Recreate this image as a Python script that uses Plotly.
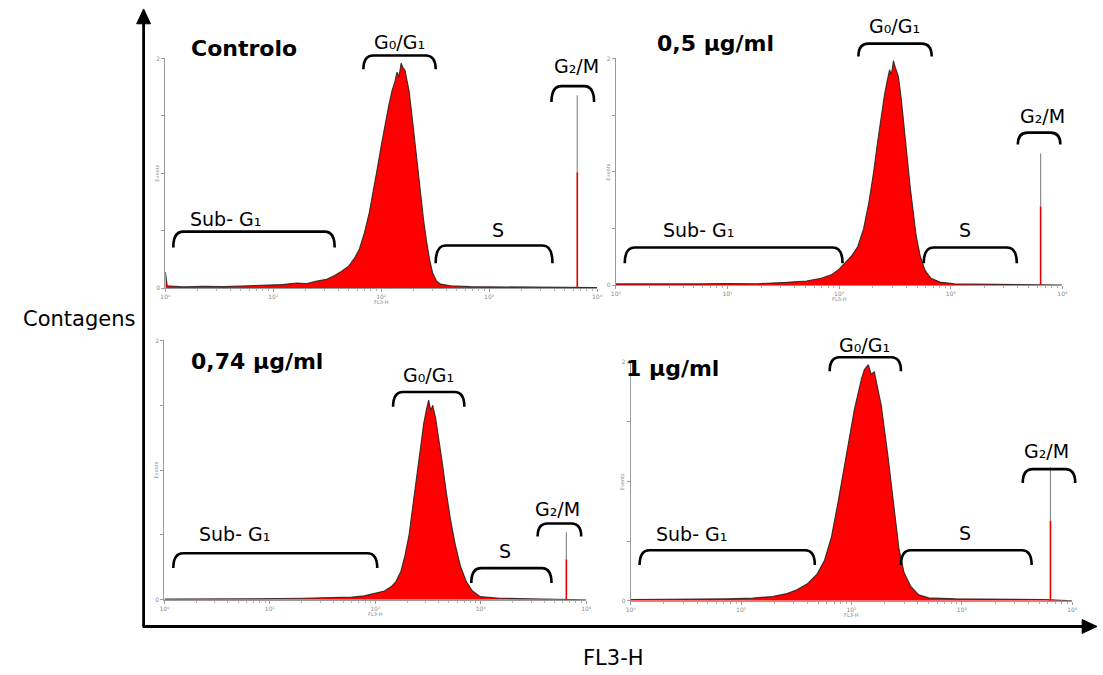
import plotly.graph_objects as go

# ---------------- data ----------------
panel_titles = ["Controlo", "0,5 µg/ml", "0,74 µg/ml", "1 µg/ml"]

# FL3-H (log scale) and relative counts (% of panel axis height)
fl3_ctrl = [1.0, 1.04, 1.46, 2.23, 3.40, 5.20, 7.93, 12.1, 16.6, 20.5, 25.3, 31.3, 37.0, 43.0, 49.8, 56.5, 62.8, 69.8,
            77.6, 84.5, 91.9, 100, 109, 118, 126, 134, 140, 146, 153, 159, 166, 173, 181, 192, 205, 218, 233, 248,
            264, 282, 300, 327, 355, 439, 670, 1262, 2938, 6150, 10000]
cnt_ctrl = [7.0, 1.0, 0.5, 0.8, 0.6, 1.0, 1.2, 1.5, 2.2, 2.0, 3.0, 3.8, 5.5, 7.3, 9.5, 13, 17, 24,
            33, 42, 52, 62, 72, 80, 86, 90, 94, 92, 98, 96, 95, 91, 86, 76, 64, 52, 40, 29,
            20, 12, 6.5, 3.0, 1.7, 1.0, 0.6, 0.5, 0.4, 0.4, 0.2]

fl3_05 = [1.0, 1.96, 5.43, 10, 18.4, 34, 51, 69, 85, 100, 115, 130, 147, 166, 184, 204, 221, 240, 255, 272, 283,
          294, 307, 319, 340, 361, 384, 408, 434, 461, 490, 532, 589, 666, 800, 1084, 2450, 5540, 10000]
cnt_05 = [0.5, 0.4, 0.5, 0.7, 0.6, 1.2, 1.8, 3.0, 4.5, 7, 10, 13, 17, 25, 36, 50, 63, 76, 84, 91, 95,
          93, 99, 96, 92, 82, 70, 56, 43, 32, 22, 13, 6.5, 3.0, 1.3, 0.5, 0.4, 0.3, 0.0]

fl3_074 = [1.0, 2.32, 6.85, 20.2, 38.6, 59.5, 78.8, 102, 122, 141, 157, 175, 191, 209, 227, 248, 270, 288, 308, 321,
           336, 351, 374, 399, 435, 474, 517, 576, 642, 731, 832, 989, 1524, 2915, 5575, 10000]
cnt_074 = [0.3, 0.3, 0.4, 0.6, 0.8, 1.0, 1.5, 2.5, 3.4, 5, 7, 11, 17, 25, 36, 48, 60, 68, 74, 77,
           73, 75, 70, 63, 52, 41, 31, 21, 13, 7, 3.5, 1.2, 0.6, 0.4, 0.3, 0.0]

fl3_1 = [1.0, 2.19, 4.07, 7.57, 12.7, 19.2, 26.1, 32, 39.5, 48.5, 57, 66, 76, 90, 106, 123, 131, 142, 151, 161,
         186, 215, 243, 269, 299, 345, 407, 501, 875, 1995, 5610, 10000]
cnt_1 = [0.5, 0.5, 0.6, 0.8, 1.1, 1.8, 3.0, 4.6, 7, 11, 17, 27, 42, 62, 80, 93, 97, 99, 95, 96,
         82, 60, 38, 22, 12, 6, 2.5, 1.2, 0.8, 0.6, 0.5, 0.0]

hist_x = [fl3_ctrl, fl3_05, fl3_074, fl3_1]
hist_y = [cnt_ctrl, cnt_05, cnt_074, cnt_1]

# G2/M spike position (FL3-H) and height (%)
g2m_pos = [6560, 6390, 6490, 6350]
g2m_height = [84, 58, 26, 56]

x_tick_vals = [1, 10, 100, 1000, 10000]
x_tick_text = ["10⁰", "10¹", "10²", "10³", "10⁴"]
y_tick_vals = [0, 100]
y_tick_text = ["0", "2"]

phase_labels = ["Sub- G₁", "G₀/G₁", "S", "G₂/M"]

# ---------------- layout helpers ----------------
W, H = 1103, 675


def px(x):
    return x / W


def py(y):
    return 1 - y / H


# panel frames in pixels: (left, right, top, bottom)
frames = [(162, 598, 55, 287), (617, 1068, 55, 284), (161, 587, 340, 602), (632, 1078, 362, 603)]
title_pos = [(241, 45), (718, 40), (255, 361), (674, 368)]
# brackets per panel: (x0, x1, ytop, ybottom) for Sub-G1, G0/G1, S, G2/M
brackets = [
    [(170, 333, 230, 246), (362, 435, 52, 66), (435, 553, 244, 262), (552, 595, 83, 99)],
    [(626, 846, 246, 262), (862, 936, 40, 53), (928, 1022, 246, 262), (1023, 1066, 130, 142)],
    [(170, 376, 555, 570), (392, 464, 392, 407), (471, 552, 570, 585), (538, 582, 525, 538)],
    [(641, 818, 552, 567), (833, 905, 357, 371), (905, 1037, 552, 567), (1028, 1081, 470, 484)],
]
label_pos = [
    [(223, 217), (398, 38), (498, 228), (577, 63)],
    [(700, 228), (898, 22), (970, 228), (1048, 113)],
    [(232, 536), (428, 375), (505, 553), (558, 510)],
    [(693, 536), (868, 345), (970, 535), (1052, 452)],
]

FONT = "DejaVu Sans"
fig = go.Figure()
layout = dict(
    width=W, height=H, autosize=False,
    margin=dict(l=0, r=0, t=0, b=0),
    paper_bgcolor="white", plot_bgcolor="white",
    showlegend=False,
    font=dict(family=FONT, color="black"),
)
shapes = []
annotations = []


def label(text, x, y, size, **kw):
    d = dict(text=text, xref="paper", yref="paper", x=px(x), y=py(y),
             xanchor="center", yanchor="middle", showarrow=False,
             font=dict(size=size, color=kw.pop("color", "black"), family=FONT))
    d.update(kw)
    annotations.append(d)


for i in range(4):
    xa = "x" if i == 0 else f"x{i+1}"
    ya = "y" if i == 0 else f"y{i+1}"
    xkey = "xaxis" if i == 0 else f"xaxis{i+1}"
    ykey = "yaxis" if i == 0 else f"yaxis{i+1}"
    l, r, t, b = frames[i]
    layout[xkey] = dict(
        domain=[px(l), px(r)], anchor=ya, type="log", range=[0, 4],
        showgrid=False, zeroline=False, showline=True, linecolor="#9a9a9a", linewidth=1,
        ticks="outside", ticklen=3, tickcolor="#9a9a9a", tickwidth=1,
        tickvals=x_tick_vals, ticktext=x_tick_text,
        tickfont=dict(size=6, color="#8a8a8a"),
        minor=dict(ticks="outside", ticklen=2, tickcolor="#b0b0b0", showgrid=False, dtick="D1"),
        fixedrange=True,
    )
    layout[ykey] = dict(
        domain=[py(b), py(t)], anchor=xa, range=[0, 100],
        showgrid=False, zeroline=False, showline=True, linecolor="#9a9a9a", linewidth=1,
        ticks="outside", ticklen=3, tickcolor="#9a9a9a", tickwidth=1,
        tickvals=y_tick_vals, ticktext=y_tick_text,
        tickfont=dict(size=6, color="#8a8a8a"),
        minor=dict(ticks="outside", ticklen=3, tickcolor="#9a9a9a", dtick=25, showgrid=False),
        fixedrange=True,
    )
    # histogram
    fig.add_trace(go.Scatter(
        x=hist_x[i], y=hist_y[i], xaxis=xa, yaxis=ya, mode="lines",
        fill="tozeroy", fillcolor="#ff0000",
        line=dict(color="rgba(30,30,30,0.85)", width=1.1, shape="linear"),
        hoverinfo="skip",
    ))
    # G2/M spike: red lower part, grey upper part
    h = g2m_height[i]
    fig.add_trace(go.Scatter(
        x=[g2m_pos[i], g2m_pos[i]], y=[0, h * 0.6], xaxis=xa, yaxis=ya, mode="lines",
        line=dict(color="#e00000", width=1.6), hoverinfo="skip",
    ))
    fig.add_trace(go.Scatter(
        x=[g2m_pos[i], g2m_pos[i]], y=[h * 0.6, h], xaxis=xa, yaxis=ya, mode="lines",
        line=dict(color="#8c8c8c", width=1.2), hoverinfo="skip",
    ))
    # tiny axis titles
    label("FL3-H", l + (r - l) * 0.5, b + 14, 5, color="#8a8a8a")
    label("Events", l - 8, (t + b) / 2, 5, color="#8a8a8a", textangle=-90)
    # panel title
    tx, ty = title_pos[i]
    label(f"<b>{panel_titles[i]}</b>", tx, ty, 22)
    # brackets & labels
    for j in range(4):
        x0, x1, yt, yb = brackets[i][j]
        rr = 10
        path = (f"M {px(x0)},{py(yb)} Q {px(x0)},{py(yt)} {px(x0 + rr)},{py(yt)} "
                f"L {px(x1 - rr)},{py(yt)} Q {px(x1)},{py(yt)} {px(x1)},{py(yb)}")
        shapes.append(dict(type="path", path=path, xref="paper", yref="paper",
                           line=dict(color="black", width=2.6)))
        lx, ly = label_pos[i][j]
        label(phase_labels[j], lx, ly, 19)

# outer axes with arrows (lines + solid triangle heads)
shapes.append(dict(type="line", xref="paper", yref="paper", x0=px(140), y0=py(629), x1=px(140), y1=py(18),
                   line=dict(color="black", width=2.8)))
shapes.append(dict(type="path", xref="paper", yref="paper",
                   path=f"M {px(133)},{py(20)} L {px(140)},{py(5)} L {px(147)},{py(20)} Z",
                   fillcolor="black", line=dict(color="black", width=1)))
shapes.append(dict(type="line", xref="paper", yref="paper", x0=px(139), y0=py(629), x1=px(1090), y1=py(629),
                   line=dict(color="black", width=2.8)))
shapes.append(dict(type="path", xref="paper", yref="paper",
                   path=f"M {px(1088)},{py(622)} L {px(1103)},{py(629)} L {px(1088)},{py(636)} Z",
                   fillcolor="black", line=dict(color="black", width=1)))

label("Contagens", 75, 318, 21)
label("FL3-H", 615, 661, 21)

layout["shapes"] = shapes
layout["annotations"] = annotations
fig.update_layout(**layout)
fig.write_html("out.html", config={"displayModeBar": False},
               post_script="document.body.style.margin='0';document.body.style.padding='0';")
